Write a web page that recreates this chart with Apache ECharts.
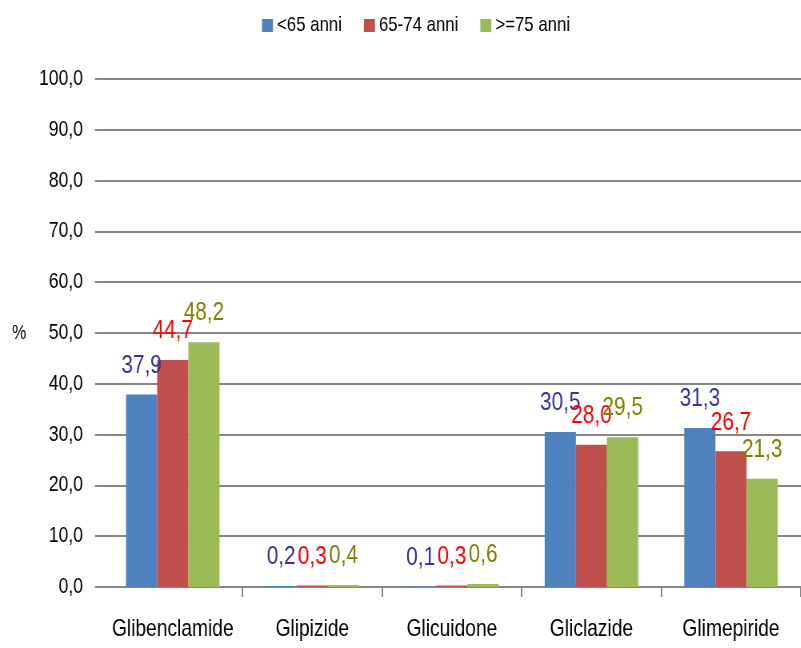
<!DOCTYPE html>
<html>
<head>
<meta charset="utf-8">
<script src="https://cdn.jsdelivr.net/npm/echarts@6/dist/echarts.min.js"></script>
<style>
  html, body { margin: 0; padding: 0; background: #fff; overflow: hidden; }
  #wrap { width: 801px; height: 648px; overflow: hidden; }
  /* the chart is laid out wider and squeezed horizontally for a condensed look */
  #chart { width: 1001px; height: 648px; transform: scaleX(0.8); transform-origin: 0 0; }
</style>
</head>
<body>
<div id="wrap"><div id="chart"></div></div>
<script>
const categories = ['Glibenclamide', 'Glipizide', 'Glicuidone', 'Gliclazide', 'Glimepiride'];
const seriesNames = ['<65 anni', '65-74 anni', '>=75 anni'];
const under65 = [37.9, 0.2, 0.1, 30.5, 31.3];
const age65to74 = [44.7, 0.3, 0.3, 28.0, 26.7];
const over75 = [48.2, 0.4, 0.6, 29.5, 21.3];
const yTicks = { min: 0, max: 100, interval: 10 };

const SX = 0.8; // horizontal squeeze applied by CSS
const FONT = '"Liberation Sans", Arial, sans-serif';
const barColors = ['#4F81BD', '#C0504D', '#9BBB59'];
const labelColors = ['#333399', '#FF0000', '#808000'];
const fmt = v => v.toFixed(1).replace('.', ',');

function makeSeries(name, data, i) {
  return {
    name: name,
    type: 'bar',
    data: data,
    barGap: '0%',
    barCategoryGap: '33%',
    itemStyle: { color: barColors[i] },
    label: {
      show: true,
      position: 'top',
      distance: 16,
      color: labelColors[i],
      fontFamily: FONT,
      fontSize: 26,
      formatter: p => fmt(p.value)
    }
  };
}

const chart = echarts.init(document.getElementById('chart'), null, { renderer: 'canvas' });
chart.setOption({
  animation: false,
  backgroundColor: '#ffffff',
  textStyle: { fontFamily: FONT },
  legend: {
    top: 10,
    left: 258 / SX,
    icon: 'rect',
    itemWidth: 11 / SX,
    itemHeight: 13,
    itemGap: 22 / SX,
    textStyle: { fontFamily: FONT, fontSize: 21, color: '#000' },
    data: seriesNames
  },
  grid: { left: 103 / SX, top: 79, width: 705 / SX, height: 508, containLabel: false },
  xAxis: {
    type: 'category',
    data: categories,
    boundaryGap: true,
    axisLine: { show: true, lineStyle: { color: '#888888', width: 2 } },
    axisTick: {
      show: true,
      length: 10,
      alignWithLabel: false,
      interval: i => i > 0,
      lineStyle: { color: '#888888', width: 2 }
    },
    axisLabel: { color: '#000', fontFamily: FONT, fontSize: 24, margin: 30, interval: 0 }
  },
  yAxis: {
    type: 'value',
    min: yTicks.min,
    max: yTicks.max,
    interval: yTicks.interval,
    name: '%',
    nameLocation: 'middle',
    nameRotate: 0,
    nameGap: 96,
    nameTextStyle: { color: '#000', fontFamily: FONT, fontSize: 20 },
    axisLine: { show: false },
    axisTick: { show: true, length: 8 / SX, lineStyle: { color: '#888888', width: 2 } },
    splitLine: { show: true, lineStyle: { color: '#888888', width: 2 } },
    axisLabel: { color: '#000', fontFamily: FONT, fontSize: 22, margin: 20 / SX, formatter: v => fmt(v) }
  },
  series: [
    makeSeries(seriesNames[0], under65, 0),
    makeSeries(seriesNames[1], age65to74, 1),
    makeSeries(seriesNames[2], over75, 2)
  ]
});
</script>
</body>
</html>
